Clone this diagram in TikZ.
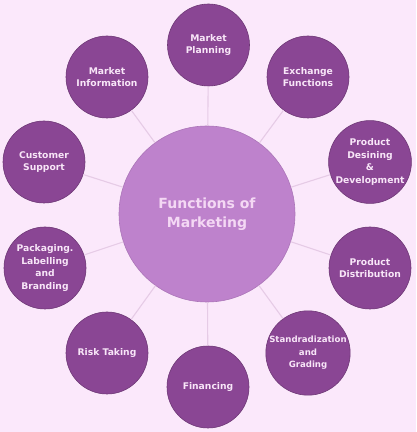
\documentclass[tikz,border=0pt]{standalone}
\usepackage{fontspec}
\setmainfont{DejaVu Sans}
\definecolor{bgc}{HTML}{FBE8FB}
\definecolor{outerc}{HTML}{8A4694}
\definecolor{centerc}{HTML}{BE82CC}
\definecolor{linec}{HTML}{E6CBE6}
\definecolor{txtc}{HTML}{F8E6F8}
\definecolor{ctxtc}{HTML}{F4D8F4}
\begin{document}
\begin{tikzpicture}[x=1pt,y=1pt,
  outer/.style={circle,fill=outerc,draw=outerc!80!black,line width=0.6pt,minimum size=82pt,inner sep=0pt,
    text=txtc,font=\bfseries\fontsize{9.2}{12.5}\selectfont,align=center},
  hub/.style={circle,fill=centerc,draw=centerc!90!black,line width=0.6pt,minimum size=176pt,inner sep=0pt,
    text=ctxtc,font=\bfseries\fontsize{14}{19}\selectfont,align=center},
  conn/.style={draw=linec,line width=1.1pt}]
\fill[bgc] (0,0) rectangle (416,432);
\useasboundingbox (0,0) rectangle (416,432);
\node[hub] (c) at (207,218) {Functions of\\Marketing};
\node[outer] (mp) at (208.5,387) {Market\\Planning};
\node[outer] (mi) at (107,355) {Market\\Information};
\node[outer] (ef) at (308,355) {Exchange\\Functions};
\node[outer] (cs) at (44,270) {Customer\\Support};
\node[outer] (pd) at (370,270) {Product\\Desining\\\&\\Development};
\node[outer] (plb) at (45,164) {Packaging.\\Labelling\\and\\Branding};
\node[outer] (pdi) at (370,164) {Product\\Distribution};
\node[outer] (rt) at (107,79) {Risk Taking};
\node[outer,font=\bfseries\fontsize{8.6}{12.5}\selectfont] (sg) at (308,79) {Standradization\\and\\Grading};
\node[outer] (fin) at (208,45) {Financing};
\foreach \n in {mp,mi,ef,cs,pd,plb,pdi,rt,sg,fin}{
  \path[conn] (c) -- (\n);
}
\end{tikzpicture}
\end{document}
